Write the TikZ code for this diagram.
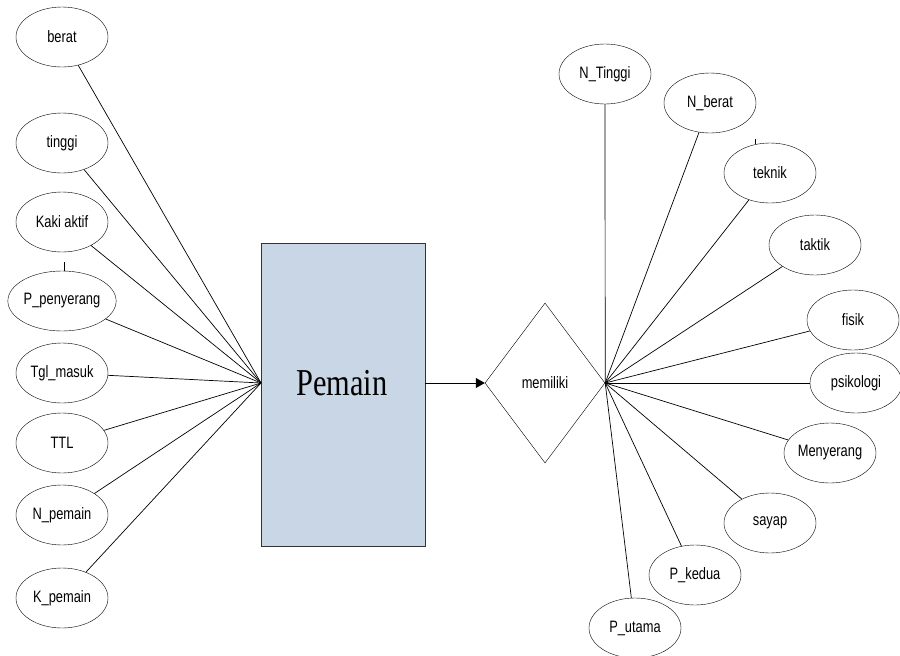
\documentclass[tikz,border=0pt]{standalone}
\usepackage{fontspec}
\newfontfamily\atributfont{Liberation Sans}[FakeStretch=0.78]
\newfontfamily\entitasfont{Liberation Serif}[FakeStretch=0.8]
\usetikzlibrary{arrows.meta,shapes.geometric}

\tikzset{
  atribut/.style={draw,ellipse,minimum width=92pt,minimum height=60pt,inner sep=0pt,
    font=\atributfont\fontsize{16.5}{18}\selectfont},
  entitas/.style={draw=black!80,fill=entbiru,rectangle,minimum width=164pt,minimum height=303pt,inner sep=0pt},
  relasi/.style={draw,diamond,minimum width=120pt,minimum height=160pt,inner sep=0pt,
    font=\atributfont\fontsize{16.5}{18}\selectfont},
  garis/.style={line width=0.7pt}
}
\definecolor{entbiru}{RGB}{200,214,229}

\begin{document}
\begin{tikzpicture}[x=1pt,y=-1pt,>=Stealth]
        \useasboundingbox (0,0) rectangle (900,656);
        % entitas dan relasi
        \node[entitas] (pemain) at (343,394.5) {};
        \node[font=\entitasfont\fontsize{38}{40}\selectfont] (pemainteks) at (342,383) {Pemain};
        \coordinate (kiri) at (261,383);
        \node[relasi] (memiliki) at (545,383) {memiliki};
        \draw[garis,-{Triangle[length=9pt,width=10pt]}] (pemain.east |- memiliki) -- (memiliki.west);
        % atribut kiri
        \node[atribut] (berat) at (62,37) {berat};
        \node[atribut] (tinggi) at (62,143) {tinggi};
        \node[atribut] (kaki) at (62,222) {Kaki aktif};
        \node[atribut] (penyerang) at (62,301) {P\_penyerang};
        \node[atribut] (tglmasuk) at (62,373) {Tgl\_masuk};
        \node[atribut] (ttl) at (62,443) {TTL};
        \node[atribut] (npemain) at (62,515) {N\_pemain};
        \node[atribut] (kpemain) at (62,598) {K\_pemain};
        \draw[garis] (berat) -- (kiri);
        \draw[garis] (tinggi) -- (kiri);
        \draw[garis] (kaki) -- (kiri);
        \draw[garis] (penyerang) -- (kiri);
        \draw[garis] (tglmasuk) -- (kiri);
        \draw[garis] (ttl) -- (kiri);
        \draw[garis] (npemain) -- (kiri);
        \draw[garis] (kpemain) -- (kiri);
        \draw[garis] (64,262) -- (penyerang.north -| 64,0);
        % atribut kanan
        \node[atribut] (ntinggi) at (605,74) {N\_Tinggi};
        \node[atribut] (nberat) at (710,103) {N\_berat};
        \node[atribut] (teknik) at (770,173) {teknik};
        \node[atribut] (taktik) at (815,245) {taktik};
        \node[atribut] (fisik) at (853,320) {fisik};
        \node[atribut] (psikologi) at (856,383) {psikologi};
        \node[atribut] (menyerang) at (830,453) {Menyerang};
        \node[atribut] (sayap) at (770,523) {sayap};
        \node[atribut] (pkedua) at (695,575) {P\_kedua};
        \node[atribut] (putama) at (635,628) {P\_utama};
        \draw[garis] (memiliki.east) -- (ntinggi);
        \draw[garis] (memiliki.east) -- (nberat);
        \draw[garis] (memiliki.east) -- (teknik);
        \draw[garis] (memiliki.east) -- (taktik);
        \draw[garis] (memiliki.east) -- (fisik);
        \draw[garis] (memiliki.east) -- (psikologi);
        \draw[garis] (memiliki.east) -- (menyerang);
        \draw[garis] (memiliki.east) -- (sayap);
        \draw[garis] (memiliki.east) -- (pkedua);
        \draw[garis] (memiliki.east) -- (putama);
        \draw[garis] (755,139) -- (755,144);
      \end{tikzpicture}
\end{document}
